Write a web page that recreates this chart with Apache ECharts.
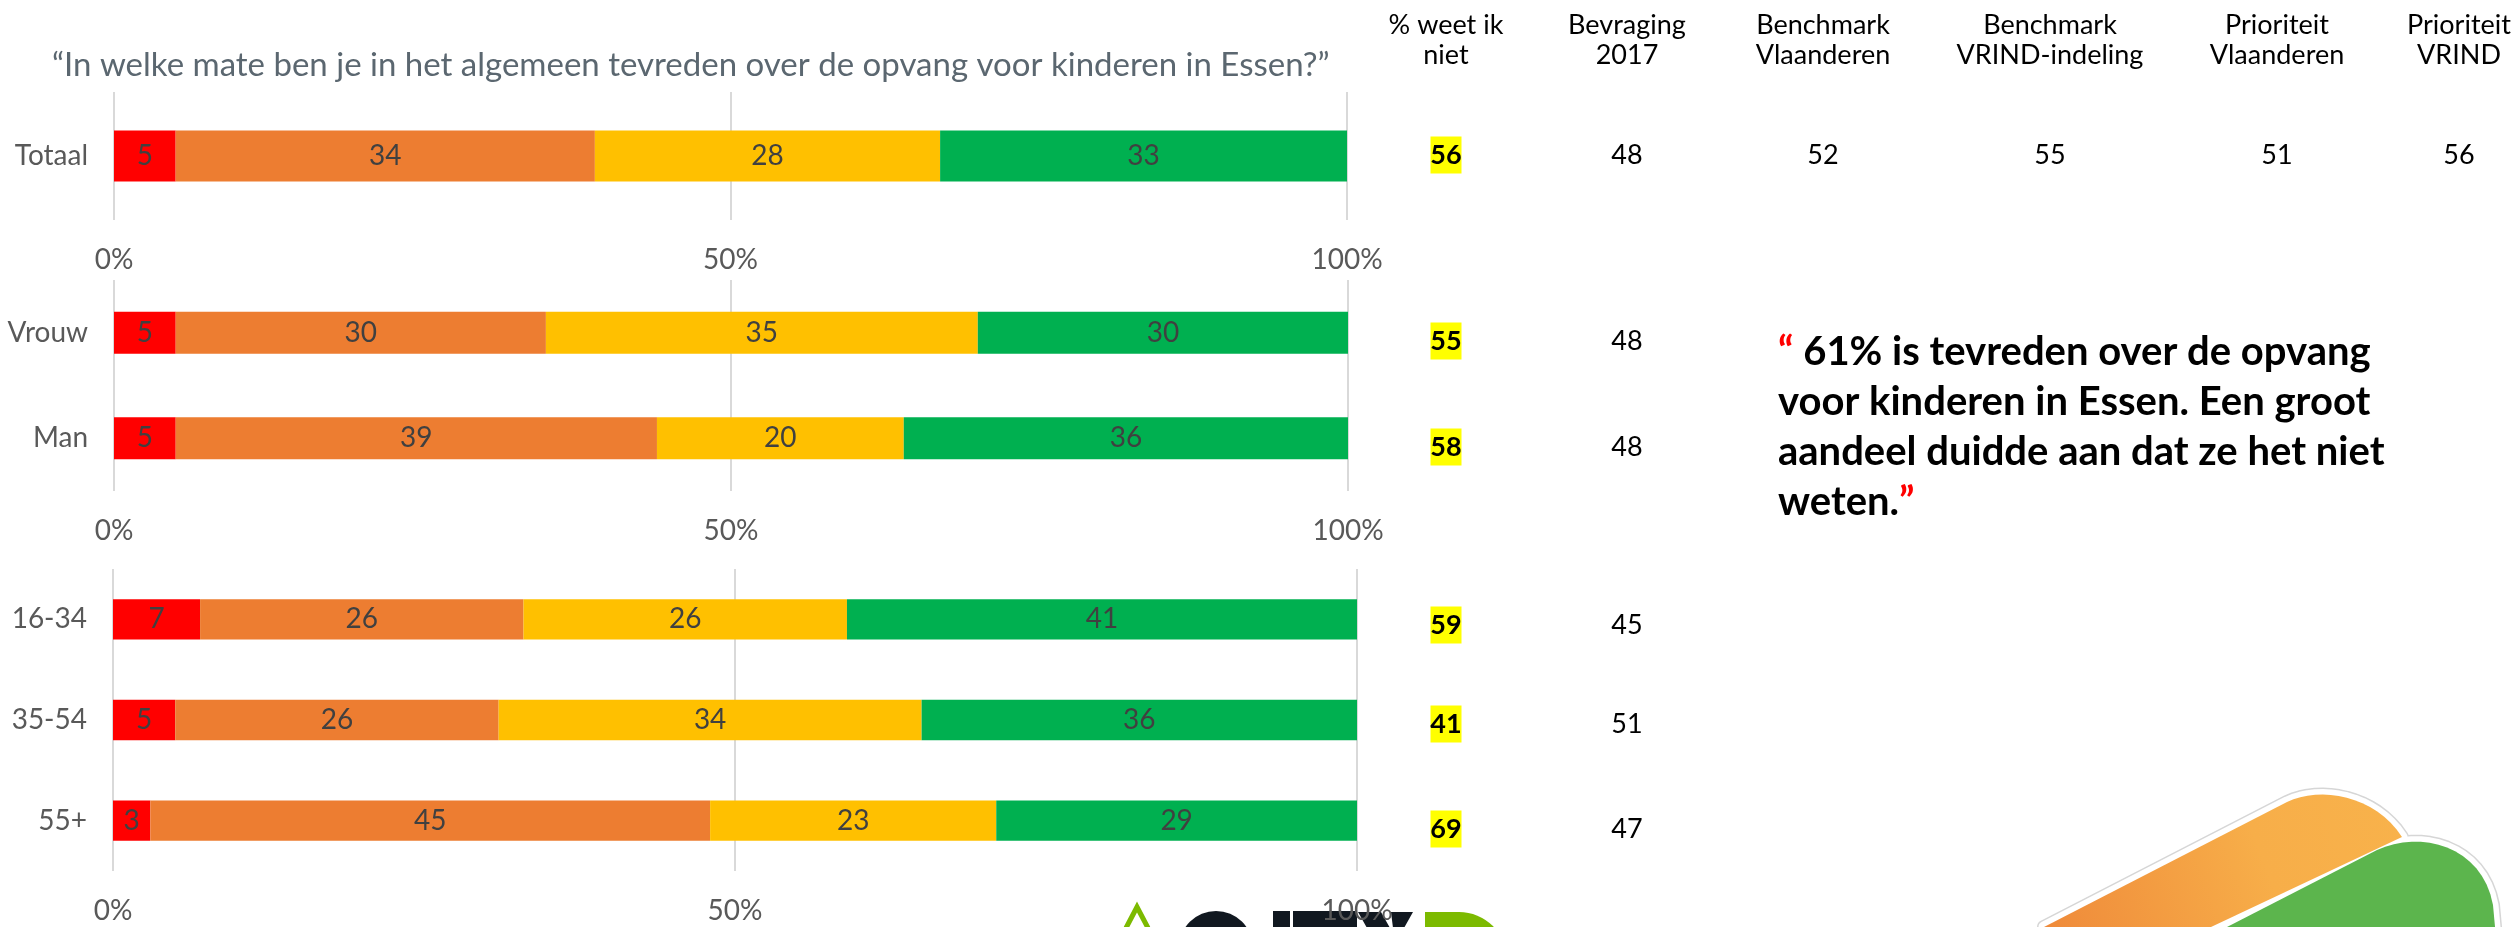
<!DOCTYPE html>
<html>
<head>
<meta charset="utf-8">
<script src="https://cdn.jsdelivr.net/npm/echarts@6.0.0/dist/echarts.min.js"></script>
<style>
html,body{margin:0;padding:0;background:#ffffff;}
#chart{width:2514px;height:927px;}
</style>
</head>
<body>
<div id="chart"></div>
<script>
// ---------- data ----------
const questionTitle = '“In welke mate ben je in het algemeen tevreden over de opvang voor kinderen in Essen?”';
const seriesNames = ['Helemaal niet tevreden', 'Niet tevreden', 'Tevreden', 'Helemaal tevreden'];
const seriesColors = ['#ff0000', '#ed7d31', '#ffc000', '#00b050'];

const catTotaal = ['Totaal'];
const catGeslacht = ['Vrouw', 'Man'];
const catLeeftijd = ['16-34', '35-54', '55+'];

const totRed = [5], totOrange = [34], totYellow = [28], totGreen = [33];
const genRed = [5, 5], genOrange = [30, 39], genYellow = [35, 20], genGreen = [30, 36];
const ageRed = [7, 5, 3], ageOrange = [26, 26, 45], ageYellow = [26, 34, 23], ageGreen = [41, 36, 29];

const xTickLabels = ['0%', '50%', '100%'];

const tableHeaders = [['% weet ik', 'niet'], ['Bevraging', '2017'], ['Benchmark', 'Vlaanderen'], ['Benchmark', 'VRIND-indeling'], ['Prioriteit', 'Vlaanderen'], ['Prioriteit', 'VRIND']];
const weetIkNiet = [56, 55, 58, 59, 41, 69];
const bevraging2017 = [48, 48, 48, 45, 51, 47];
const benchmarkVlaanderen = [52];
const benchmarkVrind = [55];
const prioriteitVlaanderen = [51];
const prioriteitVrind = [56];

const quoteLines = [' 61% is tevreden over de opvang', 'voor kinderen in Essen. Een groot', 'aandeel duidde aan dat ze het niet', 'weten.'];

// ---------- layout ----------
const FONT = 'Lato';
const grids = [
  { left: 114, top: 92, width: 1233, height: 128 },
  { left: 114, top: 280, width: 1234, height: 211 },
  { left: 113, top: 569, width: 1244, height: 302 }
];
const groups = [
  { cats: catTotaal, vals: [totRed, totOrange, totYellow, totGreen] },
  { cats: catGeslacht, vals: [genRed, genOrange, genYellow, genGreen] },
  { cats: catLeeftijd, vals: [ageRed, ageOrange, ageYellow, ageGreen] }
];
const colX = [1446, 1627, 1823, 2050, 2277, 2459];
const rowY = [155, 341, 447, 625, 724, 829];

const xAxes = [], yAxes = [], series = [];
groups.forEach((g, i) => {
  xAxes.push({
    type: 'value', gridIndex: i, min: 0, max: 100, interval: 50,
    axisLine: { show: false }, axisTick: { show: false },
    splitLine: { show: true, lineStyle: { color: '#d9d9d9', width: 2 } },
    axisLabel: {
      color: '#595959', fontSize: 28, fontFamily: FONT, margin: 26,
      formatter: v => xTickLabels[Math.round(v / 50)]
    }
  });
  yAxes.push({
    type: 'category', gridIndex: i, data: g.cats, inverse: true,
    axisLine: { show: false }, axisTick: { show: false }, splitLine: { show: false },
    axisLabel: { color: '#595959', fontSize: 28, fontFamily: FONT, margin: 26 }
  });
  g.vals.forEach((arr, k) => {
    series.push({
      type: 'bar', name: seriesNames[k], stack: 'grp' + i,
      xAxisIndex: i, yAxisIndex: i, data: arr, barWidth: '40%',
      itemStyle: { color: seriesColors[k] },
      label: { show: true, position: 'inside', color: '#404040', fontSize: 28, fontFamily: FONT },
      silent: true
    });
  });
});

// ---------- graphics (texts, table, logos) ----------
const graphics = [];

function cubic(p0, c1, c2, p1, n) {
  const pts = [];
  for (let i = 1; i <= n; i++) {
    const t = i / n, u = 1 - t;
    pts.push([
      u*u*u*p0[0] + 3*u*u*t*c1[0] + 3*u*t*t*c2[0] + t*t*t*p1[0],
      u*u*u*p0[1] + 3*u*u*t*c1[1] + 3*u*t*t*c2[1] + t*t*t*p1[1]
    ]);
  }
  return pts;
}
const orangePts = [[2044, 927], [2287, 802]].concat(cubic([2287, 802], [2320, 786], [2375, 795], [2402, 837], 16)).concat([[2211, 927]]);
const greenPts = [[2227, 927], [2377, 850]].concat(cubic([2377, 850], [2420, 830], [2482, 845], [2493, 905], 16)).concat([[2495, 927]]);

[orangePts, greenPts].forEach(p => {
  graphics.push({ type: 'polygon', z: -3, shape: { points: p }, style: { fill: '#ffffff', stroke: '#d6d6d6', lineWidth: 14, lineJoin: 'round' } });
  graphics.push({ type: 'polygon', z: -2, shape: { points: p }, style: { fill: '#ffffff', stroke: '#ffffff', lineWidth: 11, lineJoin: 'round' } });
});
graphics.push({ type: 'polygon', z: -1, shape: { points: orangePts }, style: {
  fill: { type: 'linear', x: 0, y: 1, x2: 1, y2: 0, colorStops: [{ offset: 0, color: '#ef8a3a' }, { offset: 0.6, color: '#f7ae49' }, { offset: 1, color: '#f8b24b' }] }
} });
graphics.push({ type: 'polygon', z: -1, shape: { points: greenPts }, style: { fill: '#5cb54d' } });

// City D logo (only top visible)
graphics.push({ type: 'polyline', z: -1, shape: { points: [[1126, 928], [1137, 907], [1148, 928]] }, style: { stroke: '#7cba00', lineWidth: 5, fill: null } });
graphics.push({ type: 'circle', z: -1, shape: { cx: 1216, cy: 948, r: 37 }, style: { fill: '#111820' } });
graphics.push({ type: 'rect', z: -1, shape: { x: 1273, y: 911, width: 17, height: 20 }, style: { fill: '#111820' } });
graphics.push({ type: 'rect', z: -1, shape: { x: 1293, y: 911, width: 64, height: 20 }, style: { fill: '#111820' } });
graphics.push({ type: 'polygon', z: -1, shape: { points: [[1358, 912], [1381, 912], [1390, 928], [1367, 928]] }, style: { fill: '#111820' } });
graphics.push({ type: 'polygon', z: -1, shape: { points: [[1391, 912], [1413, 912], [1404, 928], [1393, 928]] }, style: { fill: '#111820' } });
graphics.push({ type: 'rect', z: -1, shape: { x: 1425, y: 912, width: 82, height: 80, r: [0, 48, 0, 0] }, style: { fill: '#7cba00' } });

// question title
graphics.push({ type: 'text', x: 52, y: 65, style: {
  text: questionTitle, fill: '#5b6770', font: '33px ' + FONT, verticalAlign: 'middle', align: 'left'
} });

// table headers
tableHeaders.forEach((h, i) => {
  h.forEach((line, j) => {
    graphics.push({ type: 'text', x: colX[i], y: 25 + j * 30, style: {
      text: line, fill: '#000000', font: '27px ' + FONT, align: 'center', verticalAlign: 'middle'
    } });
  });
});

// weet ik niet (highlighted)
weetIkNiet.forEach((v, r) => {
  graphics.push({ type: 'rect', shape: { x: colX[0] - 15.5, y: rowY[r] - 18.5, width: 31, height: 37 }, style: { fill: '#ffff00' } });
  graphics.push({ type: 'text', x: colX[0], y: rowY[r], style: {
    text: String(v), fill: '#000000', font: 'bold 27px ' + FONT, align: 'center', verticalAlign: 'middle'
  } });
});
bevraging2017.forEach((v, r) => {
  graphics.push({ type: 'text', x: colX[1], y: rowY[r], style: {
    text: String(v), fill: '#000000', font: '27px ' + FONT, align: 'center', verticalAlign: 'middle'
  } });
});
[benchmarkVlaanderen, benchmarkVrind, prioriteitVlaanderen, prioriteitVrind].forEach((arr, c) => {
  arr.forEach((v, r) => {
    graphics.push({ type: 'text', x: colX[c + 2], y: rowY[r], style: {
      text: String(v), fill: '#000000', font: '27px ' + FONT, align: 'center', verticalAlign: 'middle'
    } });
  });
});

// quote
graphics.push({ type: 'text', x: 1778, y: 327, style: {
  text: '{q|“}{b|' + quoteLines[0] + '}\n{b|' + quoteLines[1] + '}\n{b|' + quoteLines[2] + '}\n{b|' + quoteLines[3] + '}{q|”}',
  align: 'left', verticalAlign: 'top',
  rich: {
    q: { fill: '#ff0000', fontSize: 40, fontWeight: 'bold', fontFamily: FONT, lineHeight: 50 },
    b: { fill: '#000000', fontSize: 40, fontWeight: 'bold', fontFamily: FONT, lineHeight: 50 }
  }
} });

const chart = echarts.init(document.getElementById('chart'), null, { renderer: 'canvas' });
chart.setOption({
  animation: false,
  backgroundColor: '#ffffff',
  grid: grids.map(g => Object.assign({ containLabel: false }, g)),
  xAxis: xAxes,
  yAxis: yAxes,
  series: series,
  graphic: graphics
});
</script>
</body>
</html>
